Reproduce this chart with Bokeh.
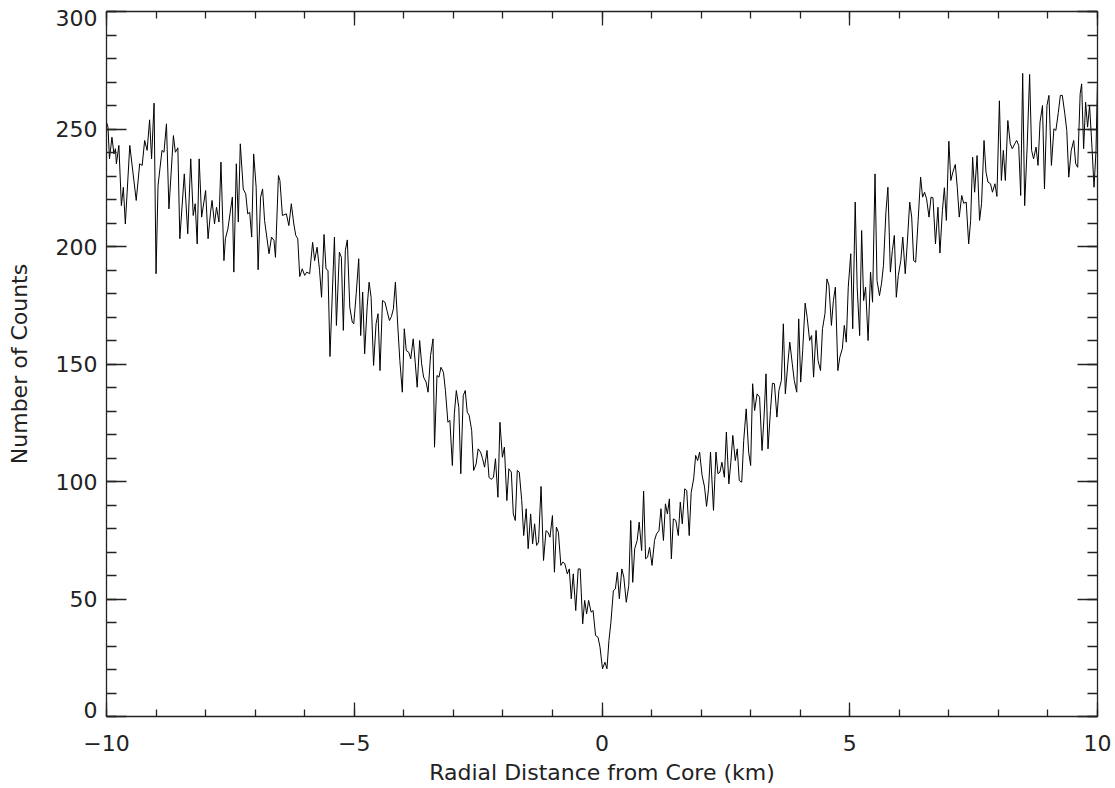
from bokeh.plotting import figure
from bokeh.models import LinearAxis, FixedTicker, Range1d
from bokeh.embed import file_html
from bokeh.resources import INLINE

# ---- data ----
x_km = [
    -10.00, -9.97, -9.94, -9.89, -9.85, -9.82, -9.80, -9.75, -9.70, -9.66, -9.62, -9.53, -9.40, -9.33,
    -9.28, -9.23, -9.18, -9.13, -9.09, -9.04, -9.00, -8.96, -8.88, -8.84, -8.79, -8.74, -8.65, -8.61,
    -8.56, -8.52, -8.43, -8.36, -8.30, -8.25, -8.21, -8.17, -8.13, -8.08, -8.00, -7.95, -7.90,
    -7.87, -7.82, -7.78, -7.73, -7.69, -7.63, -7.60, -7.55, -7.46, -7.43, -7.38, -7.34, -7.30, -7.24,
    -7.19, -7.15, -7.11, -7.07, -7.03, -6.98, -6.94, -6.89, -6.85, -6.81, -6.72, -6.67, -6.62, -6.59,
    -6.53, -6.50, -6.45, -6.37, -6.32, -6.27, -6.22, -6.18, -6.14, -6.10, -6.05, -6.00, -5.96,
    -5.90, -5.84, -5.80, -5.75, -5.70, -5.66, -5.61, -5.57, -5.53, -5.49, -5.40, -5.36, -5.30, -5.26,
    -5.22, -5.18, -5.14, -5.09, -5.04, -5.01, -4.96, -4.91, -4.87, -4.83, -4.79, -4.74, -4.70, -4.66,
    -4.61, -4.56, -4.52, -4.48, -4.43, -4.38, -4.34, -4.29, -4.25, -4.21, -4.17, -4.12, -4.08, -4.03,
    -3.99, -3.95, -3.90, -3.86,
    -3.81, -3.77, -3.73, -3.68, -3.64, -3.60, -3.55, -3.51, -3.46, -3.41, -3.38, -3.33, -3.29, -3.25,
    -3.20, -3.16, -3.11, -3.07, -3.02, -2.98, -2.94, -2.89, -2.85, -2.80, -2.76, -2.72, -2.68, -2.63,
    -2.59, -2.54, -2.50, -2.45, -2.41, -2.37, -2.32, -2.28, -2.24, -2.19, -2.15, -2.10, -2.06, -2.01,
    -1.97, -1.92, -1.88,
    -1.83, -1.79, -1.75, -1.71, -1.67, -1.62, -1.58, -1.53, -1.49, -1.44, -1.40, -1.36, -1.32, -1.28,
    -1.23, -1.18, -1.13, -1.09, -1.05, -1.00, -0.96, -0.92, -0.88, -0.83, -0.79, -0.75, -0.70, -0.66,
    -0.62, -0.58, -0.53, -0.48, -0.44, -0.39, -0.35, -0.31, -0.27, -0.22, -0.18, -0.13, -0.08, -0.04,
    0.01, 0.06, 0.10, 0.14, 0.18,
    0.23, 0.27, 0.31, 0.35, 0.40, 0.44, 0.49, 0.54, 0.58, 0.62, 0.66, 0.71, 0.75, 0.80, 0.84, 0.88,
    0.92, 0.96, 1.01, 1.06, 1.10, 1.15, 1.19, 1.24, 1.28, 1.32, 1.36, 1.40, 1.44, 1.49, 1.54, 1.58,
    1.62, 1.67, 1.71, 1.76, 1.80, 1.85, 1.89, 1.93, 1.97, 2.02, 2.07, 2.11, 2.15, 2.19,
    2.25, 2.30, 2.34, 2.38, 2.42, 2.47, 2.51, 2.56, 2.60, 2.64, 2.69, 2.73, 2.77, 2.82, 2.86, 2.91,
    2.96, 3.00, 3.04, 3.08, 3.13, 3.18, 3.23, 3.27, 3.31, 3.35, 3.40, 3.44, 3.48, 3.53, 3.57, 3.62,
    3.66, 3.70, 3.75, 3.79, 3.84, 3.88, 3.93, 3.97, 4.01, 4.05, 4.10, 4.14, 4.19,
    4.23, 4.27, 4.32, 4.36, 4.41, 4.45, 4.50, 4.54, 4.58, 4.63, 4.67, 4.71, 4.76, 4.80, 4.85, 4.89,
    4.93, 4.97, 5.02, 5.06, 5.11, 5.15, 5.20, 5.24, 5.28, 5.32, 5.37, 5.42, 5.46, 5.51, 5.55, 5.60,
    5.64, 5.68, 5.73, 5.77, 5.82, 5.86, 5.90, 5.94, 5.98, 6.03, 6.07, 6.12, 6.16, 6.21,
    6.25, 6.29, 6.33, 6.38, 6.43, 6.47, 6.51, 6.55, 6.60, 6.64, 6.68, 6.73, 6.78, 6.82, 6.87, 6.91,
    6.95, 7.00, 7.04, 7.08, 7.13, 7.17, 7.21, 7.26, 7.30, 7.35, 7.40, 7.44, 7.48, 7.52, 7.57, 7.62,
    7.66, 7.71, 7.75, 7.79, 7.84, 7.88, 7.93, 7.97, 8.02, 8.06, 8.10, 8.14, 8.19, 8.24,
    8.28, 8.33, 8.37, 8.41, 8.45, 8.49, 8.53, 8.58, 8.63, 8.67, 8.71, 8.76, 8.80, 8.84, 8.89, 8.93,
    8.98, 9.02, 9.07, 9.12, 9.16, 9.21, 9.25, 9.29, 9.34, 9.38, 9.42, 9.47, 9.52, 9.56, 9.60, 9.65,
    9.68, 9.72, 9.76, 9.80, 9.84, 9.89, 9.93, 9.97, 10.00,
]

counts = [
    252.9, 250.8, 237.3, 246.5, 239.4, 241.6, 235.2, 243.0, 217.4, 225.2, 209.6, 243.0, 219.6, 235.2,
    234.5, 245.1, 240.9, 253.9, 237.3, 261.0, 188.4, 226.0, 240.9, 240.1, 252.2, 216.0, 247.2, 240.1,
    242.0, 203.3, 230.9, 205.4, 237.3, 213.2, 218.2, 201.1, 237.3, 212.5, 223.8, 203.3, 214.6,
    219.6, 209.6, 216.7, 210.4, 235.9, 194.0, 203.3, 207.5, 221.0, 189.1, 235.2, 210.4, 243.7, 224.5,
    222.4, 213.9, 214.6, 204.0, 239.4, 225.2, 190.1, 221.0, 224.5, 211.1, 196.9, 204.0, 202.6, 195.4,
    230.2, 228.1, 213.2, 213.9, 208.9, 218.2, 209.6, 204.7, 203.3, 187.2, 190.5, 187.7, 189.1,
    188.4, 201.8, 194.0, 199.7, 189.8, 178.4, 205.1, 190.5, 189.8, 153.2, 204.0, 166.4, 197.6, 195.4,
    164.3, 198.3, 202.8, 174.2, 167.8, 167.1, 179.9, 194.8, 162.1, 180.6, 154.3, 174.2, 184.8, 178.4,
    149.4, 167.1, 171.4, 147.2, 177.0, 176.3, 172.8, 168.5, 170.2, 173.5, 184.8, 165.7, 151.5, 138.0,
    165.0, 155.7, 155.0, 152.2,
    160.7, 150.8, 140.1, 160.0, 150.1, 144.4, 142.3, 138.0, 153.6, 160.7, 114.6, 145.1, 144.4, 148.6,
    146.5, 138.7, 125.2, 126.0, 106.8, 128.8, 138.7, 131.6, 103.3, 136.6, 138.7, 129.5, 128.1, 121.7,
    104.7, 107.5, 113.9, 112.5, 109.7, 106.1, 113.2, 101.8, 100.9, 101.8, 109.7, 93.3, 125.2, 110.3,
    114.6, 91.9, 105.4,
    104.0, 86.2, 83.4, 104.7, 104.0, 91.9, 77.0, 88.4, 71.4, 86.2, 73.5, 82.0, 72.8, 74.2,
    97.9, 66.4, 79.1, 78.4, 76.3, 85.5, 61.4, 80.6, 78.4, 64.3, 65.7, 65.0, 60.7, 62.8,
    50.1, 60.7, 45.1, 62.8, 62.8, 39.4, 49.4, 43.7, 49.4, 44.4, 45.1, 34.5, 33.7, 29.5,
    20.3, 23.1, 20.3, 32.3, 40.1,
    53.6, 54.3, 61.4, 50.1, 62.8, 59.3, 48.6, 55.7, 83.4, 57.1, 71.4, 74.9, 82.7, 70.6, 95.9, 67.1,
    67.8, 72.0, 64.3, 74.9, 77.7, 79.1, 88.4, 74.9, 90.5, 86.2, 92.6, 67.1, 84.1, 83.4, 77.0, 91.2,
    82.0, 96.9, 96.2, 77.0, 95.4, 101.1, 111.1, 108.9, 112.5, 102.6, 97.6, 89.4, 96.9, 112.5,
    87.7, 112.5, 103.3, 104.0, 108.2, 101.8, 121.0, 99.0, 108.2, 119.6, 108.9, 113.9, 100.4, 99.7, 117.4, 130.9,
    112.5, 106.8, 141.6, 130.2, 137.3, 135.9, 113.2, 127.4, 145.8, 113.9, 130.2, 141.8, 141.6, 127.4, 138.7, 143.0,
    167.1, 137.3, 150.1, 159.3, 150.1, 143.0, 138.0, 169.2, 142.3, 155.7, 175.9, 169.9, 160.0,
    162.1, 144.4, 164.3, 151.5, 147.2, 165.0, 171.4, 186.2, 183.4, 166.4, 177.0, 182.7, 147.2, 152.9, 156.5, 166.4,
    159.3, 182.7, 196.9, 165.0, 218.9, 182.7, 162.1, 206.8, 177.0, 182.7, 160.0, 189.1, 176.3, 230.9, 185.5, 179.1,
    184.1, 191.9, 214.6, 225.2, 189.1, 198.3, 204.7, 178.4, 187.7, 194.0, 204.0, 188.4, 201.1, 218.9,
    212.5, 194.0, 193.3, 211.1, 229.5, 221.0, 223.1, 220.3, 212.5, 221.0, 220.7, 201.1, 216.7, 197.2, 215.3, 225.0,
    211.1, 244.8, 228.1, 231.6, 234.9, 225.2, 212.5, 221.7, 218.4, 218.9, 201.1, 211.1, 238.0, 223.1, 238.7, 211.1,
    218.2, 245.1, 231.6, 227.4, 226.7, 223.1, 226.7, 221.3, 262.0, 228.1, 240.9, 228.1, 253.6, 243.7,
    241.6, 243.7, 245.1, 243.0, 221.7, 273.7, 217.4, 242.3, 273.2, 240.9, 237.3, 242.3, 234.5, 252.9, 260.0, 224.5,
    260.0, 264.3, 234.5, 250.1, 249.4, 257.1, 264.3, 264.3, 256.5, 249.4, 229.5, 240.9, 245.1, 235.2, 233.7, 265.0,
    269.2, 241.6, 261.4, 250.8, 260.0, 241.6, 225.2, 240.9, 270.6,
]

x_major = [-10, -5, 0, 5, 10]
x_minor = list(range(-10, 11))
y_major = [0, 50, 100, 150, 200, 250, 300]
y_minor = list(range(0, 301, 10))
x_tick_text = {-10: "\u221210", -5: "\u22125", 0: "0", 5: "5", 10: "10"}
y_tick_text = ["0", "50", "100", "150", "200", "250", "300"]
x_title = "Radial Distance from Core (km)"
y_title = "Number of Counts"

FONT = "DejaVu Sans"
INK = "#222222"
TICK_FS = "22px"
TITLE_FS = "22px"

p = figure(
    frame_width=991, frame_height=705,
    x_range=Range1d(-10, 10), y_range=Range1d(0, 300),
    output_backend="svg", toolbar_location=None,
    min_border_left=106, min_border_top=11, min_border_right=16, min_border_bottom=0,
    background_fill_color="white", border_fill_color="white",
)
p.grid.visible = False
p.outline_line_color = None


def style_axis(ax, horizontal):
    ax.axis_line_color = INK
    ax.axis_line_width = 1.3
    ax.major_tick_line_color = INK
    ax.minor_tick_line_color = INK
    ax.major_tick_line_width = 1.3
    ax.minor_tick_line_width = 1.3
    ax.major_tick_out = 0
    ax.minor_tick_out = 0
    if horizontal:
        ax.ticker = FixedTicker(ticks=x_major, minor_ticks=x_minor)
        ax.major_tick_in = 14
        ax.minor_tick_in = 7
    else:
        ax.ticker = FixedTicker(ticks=y_major, minor_ticks=y_minor)
        ax.major_tick_in = 20
        ax.minor_tick_in = 10
    ax.major_label_text_font = FONT
    ax.major_label_text_color = INK
    ax.major_label_text_font_size = TICK_FS
    ax.axis_label_text_font = FONT
    ax.axis_label_text_color = INK
    ax.axis_label_text_font_style = "normal"
    ax.axis_label_text_font_size = TITLE_FS


def hide_labels(ax):
    ax.major_label_text_font_size = "0px"
    ax.major_label_standoff = 0
    ax.major_label_text_alpha = 0


# bottom axis with labels and title
xb = p.xaxis[0]
style_axis(xb, True)
xb.major_label_overrides = x_tick_text
xb.major_label_standoff = 18
xb.axis_label = x_title
xb.axis_label_standoff = 6

# left axis: tick marks only (next to the frame)
yl = p.yaxis[0]
style_axis(yl, False)
hide_labels(yl)

# top and right axes: tick marks only
xt = LinearAxis()
style_axis(xt, True)
hide_labels(xt)
p.add_layout(xt, "above")

yr = LinearAxis()
style_axis(yr, False)
hide_labels(yr)
p.add_layout(yr, "right")

# left label axis: IDL keeps the end labels inside the frame height, so the
# labels use a range padded by 3 counts at both ends
pad = 3.0
lo, hi = y_major[0], y_major[-1]
p.extra_y_ranges = {"labels": Range1d(lo - pad, hi + pad)}


def label_pos(v):
    # position (in the padded range) that lines up with value v on the main range
    if v == lo:
        return lo
    if v == hi:
        return hi
    return (lo - pad) + (v - lo) * (hi - lo + 2 * pad) / (hi - lo)


lab_ticks = [label_pos(v) for v in y_major]
ylab = LinearAxis(y_range_name="labels")
style_axis(ylab, False)
ylab.ticker = FixedTicker(ticks=lab_ticks, minor_ticks=[])
ylab.major_label_overrides = {t: s for t, s in zip(lab_ticks, y_tick_text)}
ylab.axis_line_color = None
ylab.major_tick_line_color = None
ylab.minor_tick_line_color = None
ylab.major_tick_in = 0
ylab.major_label_standoff = 9
ylab.axis_label = y_title
ylab.axis_label_standoff = 21
p.add_layout(ylab, "left")

p.line(x_km, counts, line_color="black", line_width=1)

open("out.html", "w").write(file_html(p, INLINE))
